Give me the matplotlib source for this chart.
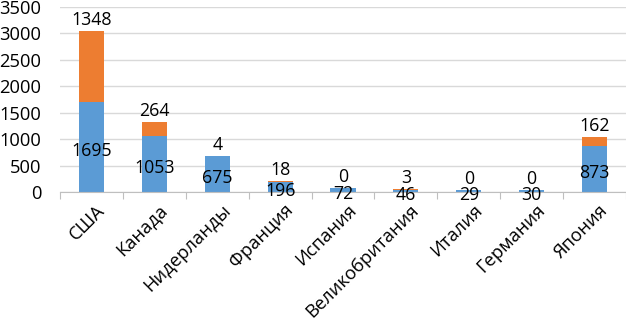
import matplotlib
matplotlib.use("Agg")
import matplotlib.pyplot as plt
import numpy as np

categories = ["США", "Канада", "Нидерланды", "Франция", "Испания",
              "Великобритания", "Италия", "Германия", "Япония"]
series_blue = [1695, 1053, 675, 196, 72, 46, 29, 30, 873]
series_orange = [1348, 264, 4, 18, 0, 3, 0, 0, 162]
yticks = [0, 500, 1000, 1500, 2000, 2500, 3000, 3500]

plt.rcParams['font.family'] = ['Open Sans', 'DejaVu Sans']

fig = plt.figure(figsize=(6.26, 3.23), dpi=100)
ax = fig.add_axes([60/626, 1 - 192/323, 566/626, 185/323])

x = np.arange(len(categories))
blue = np.array(series_blue)
orange = np.array(series_orange)
ax.bar(x, blue, width=0.4, color="#5B9BD5", zorder=2)
ax.bar(x, orange, width=0.4, bottom=blue, color="#ED7D31", zorder=2)

fs = 12.8
for i in range(len(x)):
    ax.annotate(str(series_blue[i]), (x[i], blue[i] / 2),
                xytext=(0, -3), textcoords="offset points",
                ha="center", va="center", fontsize=fs, color="black", zorder=3,
                annotation_clip=False)
    ax.annotate(str(series_orange[i]), (x[i], blue[i] + orange[i]),
                xytext=(0, 1.5), textcoords="offset points",
                ha="center", va="bottom", fontsize=fs, color="black", zorder=3)

ax.set_xlim(-0.5, len(categories) - 0.5)
ax.set_ylim(0, 3500)
ax.set_yticks(yticks)
ax.set_yticklabels([str(v) for v in yticks], fontsize=13.2)
ax.yaxis.grid(True, color="#D9D9D9", linewidth=1, zorder=0)
ax.set_axisbelow(True)
ax.tick_params(axis="y", length=0, pad=13.5)

ax.set_xticks(np.arange(-0.5, len(categories) + 0.5, 1))
ax.set_xticklabels([])
ax.tick_params(axis="x", length=5, color="#BFBFBF", direction="out")
for i, c in enumerate(categories):
    ax.annotate(c, (x[i], 0), xytext=(3, -6.5), textcoords="offset points",
                rotation=45, rotation_mode="anchor", ha="right", va="top",
                fontsize=13.2, annotation_clip=False)

for s in ["top", "right", "left"]:
    ax.spines[s].set_visible(False)
ax.spines["bottom"].set_color("#BFBFBF")

fig.savefig("out.png", dpi=100)
